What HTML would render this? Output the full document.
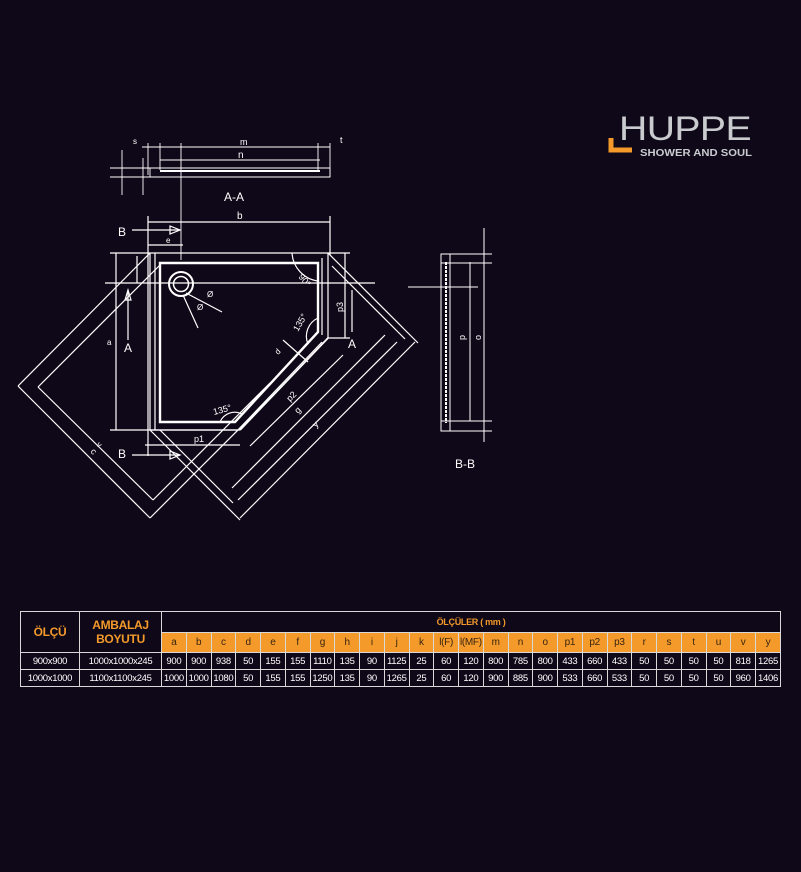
<!DOCTYPE html>
<html><head><meta charset="utf-8"><style>
html,body{margin:0;padding:0;background:#0f0818;}
body{width:801px;height:872px;position:relative;overflow:hidden;font-family:"Liberation Sans",sans-serif;}
svg{position:absolute;left:0;top:0;}
table{position:absolute;left:20px;top:611px;border-collapse:collapse;width:761px;table-layout:fixed;}
td{border:1.5px solid #d8d8d8;color:#fff;font-size:9.5px;text-align:center;padding:0;height:16px;white-space:nowrap;overflow:hidden;letter-spacing:-0.3px}
td.h{color:#f39a2a;font-weight:bold;font-size:12px;background:#0f0818}
td.o{background:#f39a2a;color:#3a2410;height:19px;font-size:10px}
td.t{color:#f39a2a;font-weight:bold;font-size:9px;height:20px;border-bottom:none}
</style></head><body>
<svg width="801" height="872" viewBox="0 0 801 872" fill="none" stroke="#fff" stroke-width="1.2" font-family="Liberation Sans, sans-serif">
<!-- Logo -->
<g>
<text x="619" y="140" fill="#c9cbcf" stroke="none" font-size="34" letter-spacing="-0.5" textLength="132" lengthAdjust="spacingAndGlyphs">HUPPE</text>
<rect x="600" y="100" width="160" height="16" fill="#0f0818" stroke="none"/>
<path d="M611 138 L611 150 L632 150" stroke="#f39a2a" stroke-width="5"/>
<text x="640" y="156" fill="#c9cbcf" stroke="none" font-size="10.5" font-weight="bold" textLength="112" lengthAdjust="spacingAndGlyphs">SHOWER AND SOUL</text>
</g>
<!-- A-A section -->
<g stroke-width="0.9">
<line x1="142" y1="147" x2="330" y2="147"/>
<line x1="160" y1="160" x2="320" y2="160"/>
<path d="M150 168 L330 168 L330 177 L150 177 Z"/>
<path d="M160 171 L320 171" stroke-width="2"/>
<line x1="148" y1="143" x2="148" y2="175"/>
<line x1="160" y1="143" x2="160" y2="170"/>
<line x1="318" y1="143" x2="318" y2="170"/>
<line x1="330" y1="143" x2="330" y2="177"/>
<line x1="122" y1="150" x2="122" y2="195"/>
<line x1="143" y1="158" x2="143" y2="195"/>
<line x1="110" y1="168" x2="150" y2="168"/>
<line x1="110" y1="177" x2="150" y2="177"/>
<line x1="181" y1="143" x2="181" y2="260"/>
<text x="240" y="145" fill="#fff" stroke="none" font-size="9">m</text>
<text x="238" y="158" fill="#fff" stroke="none" font-size="10">n</text>
<text x="133" y="144" fill="#fff" stroke="none" font-size="8">s</text>
<text x="340" y="143" fill="#fff" stroke="none" font-size="9">t</text>
<text x="224" y="201" fill="#fff" stroke="none" font-size="12">A-A</text>
</g>
<!-- plan view -->
<g stroke-width="1.2">
<line x1="148" y1="222" x2="330" y2="222"/>
<line x1="148" y1="216" x2="148" y2="456"/>
<line x1="330" y1="216" x2="330" y2="255"/>
<line x1="148" y1="245" x2="183" y2="245"/>
<text x="237" y="219" fill="#fff" stroke="none" font-size="10">b</text>
<text x="166" y="243" fill="#fff" stroke="none" font-size="8">e</text>
<text x="118" y="236" fill="#fff" stroke="none" font-size="12">B</text>
<line x1="132" y1="230" x2="180" y2="230"/>
<path d="M170 226 L180 230 L170 234 Z"/>
<text x="118" y="458" fill="#fff" stroke="none" font-size="12">B</text>
<line x1="132" y1="455" x2="180" y2="455"/>
<path d="M170 451 L180 455 L170 459 Z"/>
<line x1="110" y1="253" x2="350" y2="253"/>
<line x1="105" y1="283" x2="375" y2="283"/>
<line x1="110" y1="430" x2="240" y2="430"/>
<line x1="145" y1="445" x2="240" y2="445"/>
<line x1="116" y1="253" x2="116" y2="430"/>
<line x1="137" y1="256" x2="137" y2="283"/>
<line x1="128" y1="290" x2="128" y2="340"/>
<path d="M125 300 L128 290 L131 300 Z"/>
<text x="124" y="352" fill="#fff" stroke="none" font-size="12">A</text>
<text x="107" y="345" fill="#fff" stroke="none" font-size="8">a</text>
<text x="348" y="348" fill="#fff" stroke="none" font-size="12">A</text>
<line x1="352" y1="290" x2="352" y2="332"/>
<line x1="345" y1="253" x2="345" y2="338"/>
<line x1="328" y1="338" x2="350" y2="338"/>
<text x="343" y="312" fill="#fff" stroke="none" font-size="9" transform="rotate(-90 343 312)">p3</text>
<line x1="150" y1="253" x2="150" y2="430"/>
<line x1="155" y1="253" x2="155" y2="430"/>
<line x1="328" y1="253" x2="328" y2="338"/>
<line x1="322" y1="258" x2="322" y2="335"/>
<line x1="150" y1="430" x2="238" y2="430"/>
<path d="M160 263 L318 263 L318 332 L235 422 L160 422 Z" stroke-width="2.4"/>
<line x1="328" y1="338" x2="240" y2="430" stroke-width="1.8"/>
<line x1="322" y1="342" x2="236" y2="432"/>
<circle cx="181" cy="284" r="12" stroke-width="2"/>
<circle cx="181" cy="284" r="7.5" stroke-width="1.5"/>
<line x1="186" y1="293" x2="222" y2="312"/>
<line x1="183" y1="295" x2="198" y2="328"/>
<text x="207" y="297" fill="#fff" stroke="none" font-size="8">Ø</text>
<text x="197" y="310" fill="#fff" stroke="none" font-size="8">Ø</text>
<path d="M292 253 A30 30 0 0 0 318 281"/>
<text x="298" y="277" fill="#fff" stroke="none" font-size="9" transform="rotate(50 298 277)">90°</text>
<path d="M318 318 A20 20 0 0 0 308 344"/>
<text x="298" y="332" fill="#fff" stroke="none" font-size="9" transform="rotate(-60 298 332)">135°</text>
<path d="M220 422 A16 16 0 0 1 242 414"/>
<text x="214" y="415" fill="#fff" stroke="none" font-size="9" transform="rotate(-15 214 415)">135°</text>
<text x="194" y="442" fill="#fff" stroke="none" font-size="9">p1</text>
<line x1="150" y1="253" x2="18" y2="386"/>
<line x1="160" y1="265" x2="38" y2="387"/>
<line x1="18" y1="386" x2="150" y2="518"/>
<line x1="38" y1="387" x2="153" y2="500"/>
<line x1="150" y1="518" x2="282" y2="386"/>
<line x1="153" y1="500" x2="270" y2="383"/>
<line x1="328" y1="253" x2="418" y2="343"/>
<line x1="332" y1="266" x2="405" y2="339"/>
<line x1="150" y1="430" x2="240" y2="520"/>
<line x1="160" y1="430" x2="233" y2="503"/>
<line x1="250" y1="446" x2="343" y2="355"/>
<line x1="232" y1="488" x2="385" y2="335"/>
<line x1="238" y1="500" x2="397" y2="342"/>
<line x1="240" y1="518" x2="415" y2="342"/>
<line x1="283" y1="340" x2="308" y2="362"/>
<text x="290" y="402" fill="#fff" stroke="none" font-size="9" transform="rotate(-45 290 402)">p2</text>
<text x="298" y="414" fill="#fff" stroke="none" font-size="9" transform="rotate(-45 298 414)">g</text>
<text x="316" y="428" fill="#fff" stroke="none" font-size="9" transform="rotate(-45 316 428)">y</text>
<text x="278" y="355" fill="#fff" stroke="none" font-size="8" transform="rotate(-45 278 355)">d</text>
<text x="96" y="445" fill="#fff" stroke="none" font-size="8" transform="rotate(45 96 445)">v</text>
<text x="90" y="452" fill="#fff" stroke="none" font-size="9" transform="rotate(45 90 452)">c</text>
</g>
<!-- B-B section -->
<g stroke-width="1">
<line x1="408" y1="287" x2="478" y2="287"/>
<path d="M441 254 L450 254 L450 431 L441 431 Z"/>
<line x1="446" y1="262" x2="446" y2="423" stroke-width="2" stroke-dasharray="3 1"/>
<line x1="441" y1="254" x2="492" y2="254"/>
<line x1="441" y1="263" x2="492" y2="263"/>
<line x1="441" y1="421" x2="492" y2="421"/>
<line x1="441" y1="431" x2="492" y2="431"/>
<line x1="470" y1="262" x2="470" y2="421"/>
<line x1="484" y1="228" x2="484" y2="442"/>
<text x="465" y="340" fill="#fff" stroke="none" font-size="9" transform="rotate(-90 465 340)">p</text>
<text x="481" y="340" fill="#fff" stroke="none" font-size="9" transform="rotate(-90 481 340)">o</text>
<text x="455" y="468" fill="#fff" stroke="none" font-size="12">B-B</text>
</g>
</svg>
<table>
<colgroup><col style="width:59px"><col style="width:82px"><col span="25"></colgroup>
<tr><td class="h" rowspan="2">ÖLÇÜ</td><td class="h" rowspan="2">AMBALAJ<br>BOYUTU</td><td class="t" colspan="25">ÖLÇÜLER ( mm )</td></tr>
<tr><td class="o">a</td><td class="o">b</td><td class="o">c</td><td class="o">d</td><td class="o">e</td><td class="o">f</td><td class="o">g</td><td class="o">h</td><td class="o">i</td><td class="o">j</td><td class="o">k</td><td class="o">l(F)</td><td class="o">l(MF)</td><td class="o">m</td><td class="o">n</td><td class="o">o</td><td class="o">p1</td><td class="o">p2</td><td class="o">p3</td><td class="o">r</td><td class="o">s</td><td class="o">t</td><td class="o">u</td><td class="o">v</td><td class="o">y</td></tr>
<tr><td>900x900</td><td>1000x1000x245</td><td>900</td><td>900</td><td>938</td><td>50</td><td>155</td><td>155</td><td>1110</td><td>135</td><td>90</td><td>1125</td><td>25</td><td>60</td><td>120</td><td>800</td><td>785</td><td>800</td><td>433</td><td>660</td><td>433</td><td>50</td><td>50</td><td>50</td><td>50</td><td>818</td><td>1265</td></tr>
<tr><td>1000x1000</td><td>1100x1100x245</td><td>1000</td><td>1000</td><td>1080</td><td>50</td><td>155</td><td>155</td><td>1250</td><td>135</td><td>90</td><td>1265</td><td>25</td><td>60</td><td>120</td><td>900</td><td>885</td><td>900</td><td>533</td><td>660</td><td>533</td><td>50</td><td>50</td><td>50</td><td>50</td><td>960</td><td>1406</td></tr>
</table>
</body></html>
